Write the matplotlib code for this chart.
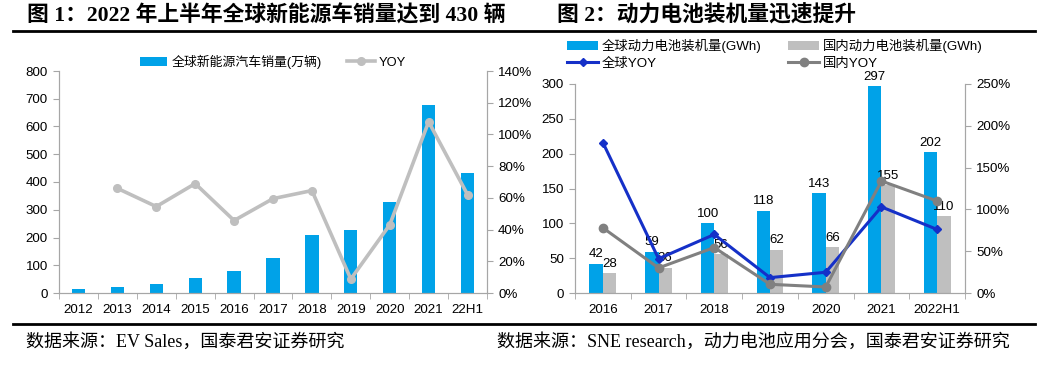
import numpy as np
import matplotlib
matplotlib.use("Agg")
import matplotlib.pyplot as plt
from matplotlib.ticker import FuncFormatter
from matplotlib.lines import Line2D

plt.rcParams['font.family'] = ['Liberation Sans', 'Noto Sans CJK SC']

# Figure 1 data
years1 = ['2012', '2013', '2014', '2015', '2016', '2017', '2018', '2019', '2020', '2021', '22H1']
sales = [14, 22, 32, 55, 79, 127, 210, 228, 327, 676, 432]
sales_yoy = [0.66, 0.545, 0.69, 0.457, 0.595, 0.646, 0.088, 0.43, 1.08, 0.62]

# Figure 2 data
years2 = ['2016', '2017', '2018', '2019', '2020', '2021', '2022H1']
global_gwh = [42, 59, 100, 118, 143, 297, 202]
china_gwh = [28, 36, 56, 62, 66, 155, 110]
global_yoy = [1.80, 0.41, 0.70, 0.184, 0.248, 1.03, 0.76]
china_yoy = [0.78, 0.30, 0.544, 0.104, 0.072, 1.34, 1.10]

BLUE = '#00A2E8'
LGRAY = '#BFBFBF'
DGRAY = '#808080'
NAVY = '#1530C8'
SPINE = '#A6A6A6'
TICK_FS = 9.6

fig = plt.figure(figsize=(10.63, 3.78), dpi=100)

serif_cjk = ['Liberation Serif', 'Noto Sans CJK SC']
fig.text(27 / 1063, 1 - 16 / 378, '图 1：2022 年上半年全球新能源车销量达到 430 辆',
         family=serif_cjk, fontsize=15.7, fontweight='bold', va='center', ha='left')
fig.text(557 / 1063, 1 - 16 / 378, '图 2：动力电池装机量迅速提升',
         family=serif_cjk, fontsize=15.7, fontweight='bold', va='center', ha='left')
fig.text(26 / 1063, 1 - 342 / 378, '数据来源：EV Sales，国泰君安证券研究',
         family=serif_cjk, fontsize=13, va='center', ha='left')
fig.text(497 / 1063, 1 - 342 / 378, '数据来源：SNE research，动力电池应用分会，国泰君安证券研究',
         family=serif_cjk, fontsize=13, va='center', ha='left')
for yy in (31, 324):
    fig.add_artist(Line2D([13 / 1063, 1035 / 1063], [1 - yy / 378, 1 - yy / 378],
                          color='black', lw=2, transform=fig.transFigure))


def style_axes(ax, axr, n):
    ax.spines['top'].set_visible(False)
    axr.spines['top'].set_visible(False)
    for s in ('left', 'bottom', 'right'):
        ax.spines[s].set_color(SPINE)
        axr.spines[s].set_color(SPINE)
    ax.set_xlim(-0.5, n - 0.5)
    ax.set_xticks(np.arange(n))
    ax.set_xticks(np.arange(-0.5, n, 1), minor=True)
    ax.tick_params(axis='x', which='major', length=0, pad=8, labelsize=TICK_FS)
    ax.tick_params(axis='x', which='minor', length=4, color=SPINE, direction='out')
    ax.tick_params(axis='y', length=4, color=SPINE, labelsize=TICK_FS, pad=4)
    axr.tick_params(axis='y', length=4, color=SPINE, labelsize=TICK_FS, pad=4)
    axr.yaxis.set_major_formatter(FuncFormatter(lambda v, p: f'{v * 100:.0f}%'))


# ---- left chart ----
ax1 = fig.add_axes([59 / 1063, 1 - 293 / 378, 428 / 1063, 222 / 378])
x1 = np.arange(len(years1))
ax1.bar(x1, sales, width=0.34, color=BLUE, label='全球新能源汽车销量(万辆)')
ax1.set_ylim(0, 800)
ax1.set_yticks(np.arange(0, 801, 100))
ax1.set_xticklabels(years1)
ax1r = ax1.twinx()
ax1r.plot(x1[1:], sales_yoy, color=LGRAY, lw=2.6, marker='o', ms=5.5, label='YOY')
ax1r.set_ylim(0, 1.4)
ax1r.set_yticks(np.arange(0, 1.41, 0.2))
style_axes(ax1, ax1r, len(years1))
h1, l1 = ax1.get_legend_handles_labels()
h2, l2 = ax1r.get_legend_handles_labels()
ax1.legend(h1 + h2, l1 + l2, ncol=2, loc='lower center', bbox_to_anchor=(0.5, 1.01),
           frameon=False, fontsize=9.3, handlelength=2.1, columnspacing=2.0,
           handletextpad=0.3, borderaxespad=0, borderpad=0)

# ---- right chart ----
ax2 = fig.add_axes([575 / 1063, 1 - 293 / 378, 390 / 1063, 209 / 378])
x2 = np.arange(len(years2))
w = 0.24
ax2.bar(x2 - 0.12, global_gwh, width=w, color=BLUE, label='全球动力电池装机量(GWh)')
ax2.bar(x2 + 0.12, china_gwh, width=w, color=LGRAY, label='国内动力电池装机量(GWh)')
for xi, v in zip(x2 - 0.12, global_gwh):
    ax2.text(xi, v + 5, str(v), ha='center', va='bottom', fontsize=9.5)
for xi, v in zip(x2 + 0.12, china_gwh):
    ax2.text(xi, v + 5, str(v), ha='center', va='bottom', fontsize=9.5)
ax2.set_ylim(0, 300)
ax2.set_yticks(np.arange(0, 301, 50))
ax2.set_xticklabels(years2)
ax2r = ax2.twinx()
ax2r.plot(x2, global_yoy, color=NAVY, lw=2.2, marker='D', ms=4, label='全球YOY')
ax2r.plot(x2, china_yoy, color=DGRAY, lw=2.2, marker='o', ms=6, label='国内YOY')
ax2r.set_ylim(0, 2.5)
ax2r.set_yticks(np.arange(0, 2.51, 0.5))
style_axes(ax2, ax2r, len(years2))
h1, l1 = ax2.get_legend_handles_labels()
h2, l2 = ax2r.get_legend_handles_labels()
handles = [h1[0], h2[0], h1[1], h2[1]]
labels = [l1[0], l2[0], l1[1], l2[1]]
ax2.legend(handles, labels, ncol=2, loc='upper left', bbox_to_anchor=(-0.02, 1.215),
           frameon=False, fontsize=9.6, handlelength=2.3, columnspacing=2.0,
           handletextpad=0.3, labelspacing=0.35, borderaxespad=0, borderpad=0)

fig.savefig('out.png', dpi=100)
